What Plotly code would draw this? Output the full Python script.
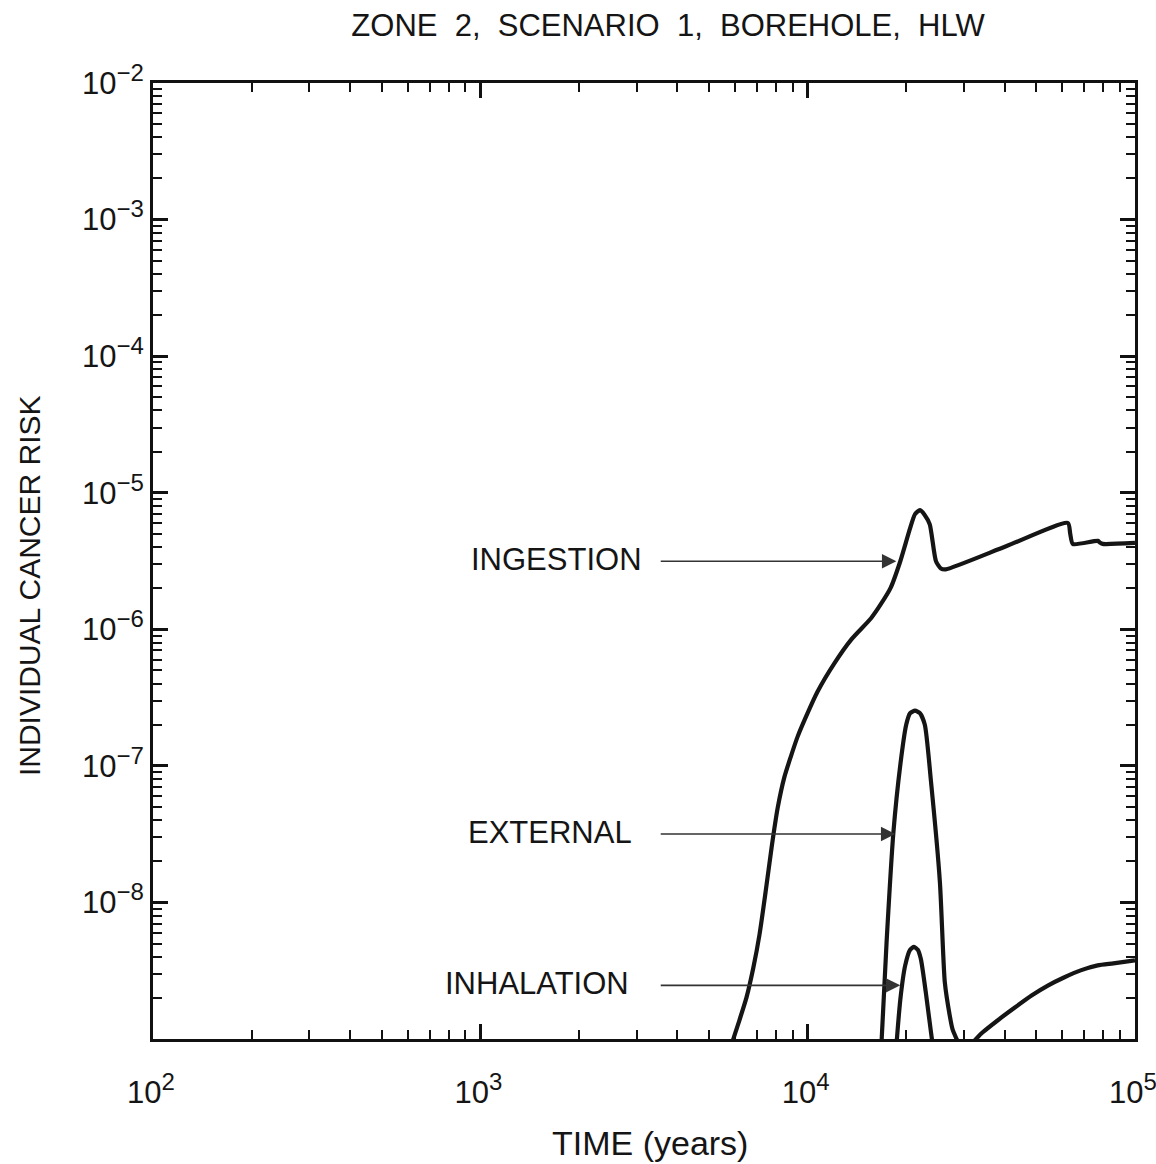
import math
import plotly.graph_objects as go

# Individual cancer risk versus time for each exposure pathway
ingestion_years = [5500, 5848, 6180, 6501, 6826, 7129, 7437, 7762, 8098, 8492, 8873,
                   9311, 9794, 10715, 12050, 13583, 15596, 16711, 17906, 19187, 20559,
                   21280, 22029, 22800, 23605, 24660, 25527, 26424, 40550, 62370, 63400,
                   64570, 77000, 78300, 79620, 100000]
ingestion_risk = [4.0e-10, 8.95e-10, 1.36e-9, 2.01e-9, 3.34e-9, 5.85e-9, 1.19e-8, 2.54e-8,
                  4.92e-8, 8.30e-8, 1.16e-7, 1.63e-7, 2.18e-7, 3.49e-7, 5.61e-7, 8.41e-7,
                  1.20e-6, 1.52e-6, 2.0e-6, 3.15e-6, 5.50e-6, 6.97e-6, 7.45e-6, 6.85e-6,
                  5.87e-6, 3.15e-6, 2.79e-6, 2.75e-6, 4.07e-6, 6.0e-6, 5.0e-6, 4.22e-6,
                  4.44e-6, 4.3e-6, 4.22e-6, 4.29e-6]

external_years = [16670, 17420, 18280, 19190, 20000, 20560, 21280, 22030, 22800, 23820,
                  25350, 26240, 27160, 27730, 29110, 30000, 31190, 34120, 38370, 42950,
                  48310, 54330, 60670, 68230, 76910, 85900, 100000]
external_risk = [6.3e-10, 5.1e-9, 3.27e-8, 1.02e-7, 2.0e-7, 2.43e-7, 2.54e-7, 2.43e-7,
                 2.0e-7, 7.6e-8, 1.41e-8, 2.6e-9, 1.49e-9, 1.17e-9, 9.1e-10, 8.5e-10,
                 8.95e-10, 1.11e-9, 1.39e-9, 1.70e-9, 2.08e-9, 2.47e-9, 2.82e-9, 3.18e-9,
                 3.46e-9, 3.58e-9, 3.76e-9]

inhalation_years = [18450, 19190, 19860, 20560, 21130, 21700, 22180, 22960, 23820, 24600]
inhalation_risk = [6.3e-10, 1.95e-9, 3.46e-9, 4.5e-9, 4.72e-9, 4.5e-9, 3.83e-9, 2.19e-9,
                   1.11e-9, 6.3e-10]

# Pathway labels with the point each arrow touches
pathway_labels = ["INGESTION", "EXTERNAL", "INHALATION"]
arrow_tip_years = [18660, 18530, 19190]
arrow_levels = [3.15e-6, 3.17e-8, 2.47e-9]
arrow_tail_years = 3520

# Axis ticks
SUP = "<sup><span style='font-size:24px'>{}</span></sup>"
x_tick_vals = [1e2, 1e3, 1e4, 1e5]
x_tick_text = ["10" + SUP.format(e) for e in ["2", "3", "4", "5"]]
y_tick_vals = [1e-8, 1e-7, 1e-6, 1e-5, 1e-4, 1e-3, 1e-2]
y_tick_text = ["10" + SUP.format("\u2212" + e) for e in ["8", "7", "6", "5", "4", "3", "2"]]

FONT = "Liberation Sans, Arial, Helvetica, sans-serif"
INK = "#151515"

x_minor = [k * 10 ** e for e in range(2, 5) for k in range(2, 10)]
y_minor = [k * 10.0 ** e for e in range(-9, -2) for k in range(2, 10)]

fig = go.Figure()
for xs, ys, name in [(ingestion_years, ingestion_risk, "Ingestion"),
                     (external_years, external_risk, "External"),
                     (inhalation_years, inhalation_risk, "Inhalation")]:
    fig.add_trace(go.Scatter(
        x=xs, y=ys, name=name, mode="lines",
        line=dict(color=INK, width=4.2, shape="spline", smoothing=0.6),
        showlegend=False, hoverinfo="skip",
    ))

annotations = []
label_shift = [-15, -25, -28]
for label, tip_t, level, shift in zip(pathway_labels, arrow_tip_years, arrow_levels, label_shift):
    annotations.append(dict(
        x=math.log10(tip_t), y=math.log10(level), xref="x", yref="y",
        ax=math.log10(arrow_tail_years), ay=math.log10(level), axref="x", ayref="y",
        text="", showarrow=True, arrowhead=2, arrowsize=1.8, arrowwidth=1.6,
        arrowcolor="#333333", standoff=0,
    ))
    annotations.append(dict(
        x=math.log10(arrow_tail_years), y=math.log10(level), xref="x", yref="y",
        text=label, showarrow=False, xanchor="right", yanchor="middle",
        xshift=shift, yshift=2, font=dict(family=FONT, size=31, color=INK),
    ))

# Axis titles (paper coordinates relative to the plotting area)
annotations.append(dict(
    text="TIME (years)", x=0.506, y=-0.109, xref="paper", yref="paper",
    showarrow=False, xanchor="center", yanchor="middle",
    font=dict(family=FONT, size=34, color=INK),
))
annotations.append(dict(
    text="INDIVIDUAL CANCER RISK", x=-0.125, y=0.474, xref="paper", yref="paper",
    showarrow=False, xanchor="center", yanchor="middle", textangle=-90,
    font=dict(family=FONT, size=30, color=INK),
))

axis_common = dict(
    type="log", showline=True, linecolor="#111111", linewidth=3, mirror="allticks",
    ticks="inside", ticklen=15, tickwidth=2.5, tickcolor="#111111",
    showgrid=False, zeroline=False, ticklabeloverflow="allow", automargin=False,
    tickfont=dict(family=FONT, size=31, color=INK),
)

fig.update_layout(
    width=1156, height=1164,
    margin=dict(l=153, r=21, t=83, b=125),
    paper_bgcolor="white", plot_bgcolor="white",
    title=dict(
        text="ZONE\u00a0 2,\u00a0 SCENARIO\u00a0 1,\u00a0 BOREHOLE,\u00a0 HLW",
        x=668 / 1156, xanchor="center", y=1 - 25 / 1164, yanchor="middle",
        xref="container", yref="container",
        font=dict(family=FONT, size=31, color=INK),
    ),
    xaxis=dict(
        range=[2, 5], tickvals=x_tick_vals, ticktext=x_tick_text,
        ticklabelstandoff=24, ticklabelshift=-2,
        minor=dict(tickvals=x_minor, ticks="inside", ticklen=9, tickwidth=2,
                   tickcolor="#111111", showgrid=False),
        **axis_common,
    ),
    yaxis=dict(
        range=[-9, -2], tickvals=y_tick_vals, ticktext=y_tick_text,
        ticklabelstandoff=0,
        minor=dict(tickvals=y_minor, ticks="inside", ticklen=9, tickwidth=2,
                   tickcolor="#111111", showgrid=False),
        **axis_common,
    ),
    annotations=annotations,
)

fig.write_html("out.html")
